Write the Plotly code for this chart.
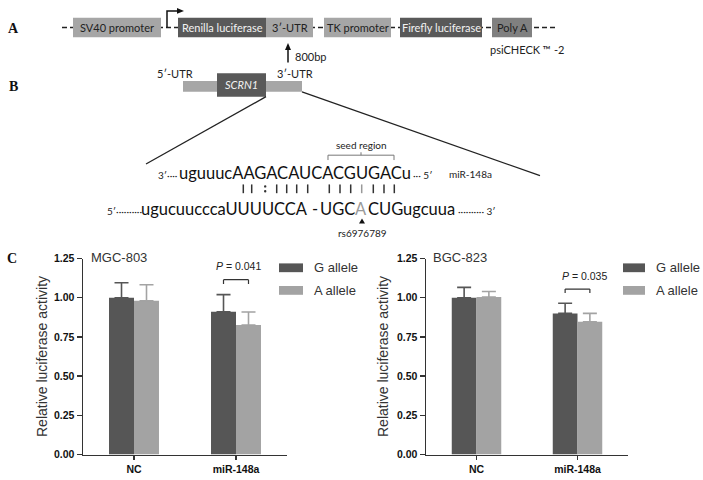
import plotly.graph_objects as go

W, H = 703, 480

# ---------------- data ----------------
categories = ["NC", "miR-148a"]
series_names = ["G allele", "A allele"]
mgc803_g = [1.00, 0.91]
mgc803_g_sd = [0.095, 0.11]
mgc803_a = [0.98, 0.826]
mgc803_a_sd = [0.103, 0.083]
bgc823_g = [1.00, 0.90]
bgc823_g_sd = [0.066, 0.065]
bgc823_a = [1.004, 0.847]
bgc823_a_sd = [0.036, 0.053]
panel_titles = ["MGC-803", "BGC-823"]
p_values = ["0.041", "0.035"]
y_tick_vals = [0, 0.25, 0.5, 0.75, 1.0, 1.25]
y_tick_text = ["0.00", "0.25", "0.50", "0.75", "1.00", "1.25"]

DARK = "#565656"
LIGHT = "#a3a3a3"
AXC = "#333333"
CHART_FONT = "'Liberation Sans', Arial, sans-serif"
DIAG_FONT = "Lato, 'Noto Sans', sans-serif"
SERIF = "'Liberation Serif', 'Times New Roman', serif"


def px(x):
    return x / W


def py(y):
    return 1 - y / H


def pt(x, y):
    return f"{px(x):.5f},{py(y):.5f}"


def txt(text, x, y, size, color="#222", family=DIAG_FONT, xanchor="left", **kw):
    d = dict(text=text, x=px(x), y=py(y), xref="paper", yref="paper", showarrow=False,
             font=dict(family=family, size=size, color=color), xanchor=xanchor, yanchor="middle",
             borderpad=0)
    d.update(kw)
    return d


fig = go.Figure()

datasets = [
    (mgc803_g, mgc803_g_sd, mgc803_a, mgc803_a_sd, "x", "y"),
    (bgc823_g, bgc823_g_sd, bgc823_a, bgc823_a_sd, "x2", "y2"),
]
for g, gsd, a, asd, xa, ya in datasets:
    for vals, sd, col, nm in ((g, gsd, DARK, series_names[0]), (a, asd, LIGHT, series_names[1])):
        fig.add_trace(go.Bar(
            x=categories, y=vals, name=nm, marker_color=col, marker_line_width=0,
            error_y=dict(type="data", symmetric=False, array=sd, arrayminus=[0] * len(sd),
                         color=col, thickness=1.6, width=7),
            xaxis=xa, yaxis=ya, showlegend=False, hoverinfo="skip",
        ))

xcommon = dict(type="category", range=[-0.5, 1.5], showline=True, linecolor=AXC, linewidth=1.5,
               ticks="outside", ticklen=4, tickwidth=1.5, tickcolor=AXC, showgrid=False,
               tickfont=dict(family=CHART_FONT, size=10.5, color="#111", weight="bold"))
ycommon = dict(range=[0, 1.25], tickvals=y_tick_vals, ticktext=y_tick_text, showline=True,
               linecolor=AXC, linewidth=1.5, ticks="outside", ticklen=5, tickwidth=1.5,
               tickcolor=AXC, showgrid=False, zeroline=False,
               tickfont=dict(family=CHART_FONT, size=10.5, color="#111", weight="bold"),
               domain=[1 - 460 / H, 1 - 259 / H])

shapes = []
ann = []

# ---------------- panel A: vector ----------------
shapes.append(dict(type="line", xref="paper", yref="paper", x0=px(62), x1=px(557), y0=py(22), y1=py(22),
                   line=dict(color="#222", width=1.5, dash="5px,3px")))
boxesA = [
    ("SV40 promoter", 73, 161, "#a6a6a6", "#222"),
    ("Renilla luciferase", 178, 266, "#595959", "#f2f2f2"),
    ("3′-UTR", 266, 313, "#a6a6a6", "#222"),
    ("TK promoter", 324, 391, "#a6a6a6", "#222"),
    ("Firefly luciferase", 400, 482, "#595959", "#f2f2f2"),
    ("Poly A", 492, 532, "#808080", "#222"),
]
for label, x0, x1, fc, tc in boxesA:
    shapes.append(dict(type="rect", xref="paper", yref="paper", x0=px(x0), x1=px(x1), y0=py(32), y1=py(12),
                       fillcolor=fc, line=dict(width=0)))
    ann.append(txt(label, (x0 + x1) / 2, 22, 11, tc, xanchor="center"))
# promoter arrow
shapes.append(dict(type="path", xref="paper", yref="paper",
                   path=f"M{pt(167, 22)} L{pt(167, 5)} L{pt(178, 5)}", line=dict(color="#111", width=1.5)))
shapes.append(dict(type="path", xref="paper", yref="paper",
                   path=f"M{pt(177, 2)} L{pt(184, 5)} L{pt(177, 8)} Z", fillcolor="#111", line=dict(width=0)))
ann.append(txt("psiCHECK ™ -2", 489, 45, 11))
# 800bp arrow
shapes.append(dict(type="line", xref="paper", yref="paper", x0=px(288), x1=px(288), y0=py(58), y1=py(44),
                   line=dict(color="#111", width=1.5)))
shapes.append(dict(type="path", xref="paper", yref="paper",
                   path=f"M{pt(285, 45)} L{pt(288, 38)} L{pt(291, 45)} Z", fillcolor="#111", line=dict(width=0)))
ann.append(txt("800bp", 294, 52, 11))

# ---------------- panel B: gene & sequence ----------------
shapes.append(dict(type="rect", xref="paper", yref="paper", x0=px(183), x1=px(302), y0=py(88), y1=py(77),
                   fillcolor="#a6a6a6", line=dict(width=0)))
shapes.append(dict(type="rect", xref="paper", yref="paper", x0=px(217), x1=px(266), y0=py(93), y1=py(69),
                   fillcolor="#595959", line=dict(width=0)))
ann.append(txt("<i>SCRN1</i>", 241, 81, 11, "#f2f2f2", xanchor="center"))
ann.append(txt("5′-UTR", 175, 69, 11, xanchor="center"))
ann.append(txt("3′-UTR", 295, 69, 11, xanchor="center"))
shapes.append(dict(type="line", xref="paper", yref="paper", x0=px(266), y0=py(93), x1=px(146), y1=py(162),
                   line=dict(color="#222", width=1.3)))
shapes.append(dict(type="line", xref="paper", yref="paper", x0=px(302), y0=py(88), x1=px(540), y1=py(174),
                   line=dict(color="#222", width=1.3)))

# seed region bracket
shapes.append(dict(type="path", xref="paper", yref="paper",
                   path=f"M{pt(328, 158)} L{pt(328, 153)} L{pt(394, 153)} L{pt(394, 158)}",
                   line=dict(color="#777", width=1)))
shapes.append(dict(type="line", xref="paper", yref="paper", x0=px(361), x1=px(361), y0=py(153), y1=py(150),
                   line=dict(color="#777", width=1)))
ann.append(txt("seed region", 361, 143, 10, xanchor="center"))

# miRNA line
ann.append(txt("3′····", 157, 173, 10))
ann.append(txt("uguuucAAGACAUCACGUGACu", 178, 171, 16.5, "#111"))
ann.append(txt("··· 5′", 412, 173, 10))
ann.append(txt("miR-148a", 448, 172, 10))

# pairing marks
pair_x = [243.3, 251.7, 276.7, 286.7, 296.7, 307.7, 329.3, 340, 350.7, 361.7, 373.3, 384, 394.3]
for xx in pair_x:
    col = "#999" if abs(xx - 361.7) < 0.5 else "#333"
    shapes.append(dict(type="line", xref="paper", yref="paper", x0=px(xx), x1=px(xx), y0=py(183), y1=py(192),
                       line=dict(color=col, width=1.5)))
for yy in (185, 190):
    shapes.append(dict(type="circle", xref="paper", yref="paper", x0=px(264), x1=px(266.4), y0=py(yy - 1.2),
                       y1=py(yy + 1.2), fillcolor="#333", line=dict(width=0)))

# target line (pieces anchored so that the SNP base sits under its mark)
ann.append(txt("5′··········", 106, 210, 10))
ann.append(txt("ugucuucccaUUUUCCA", 309, 208, 16.5, "#111", xanchor="right"))
ann.append(txt("-", 315, 208, 16.5, "#111", xanchor="center"))
ann.append(txt("UGC", 356, 208, 16.5, "#111", xanchor="right"))
ann.append(txt("A", 361.5, 208, 16.5, "#9a9a9a", xanchor="center"))
ann.append(txt("CUGugcuua", 367, 208, 16.5, "#111"))
ann.append(txt("·········· 3′", 457, 210, 10))
shapes.append(dict(type="path", xref="paper", yref="paper",
                   path=f"M{pt(359, 223)} L{pt(362, 218)} L{pt(365, 223)} Z", fillcolor="#111", line=dict(width=0)))
ann.append(txt("rs6976789", 362, 233, 10, xanchor="center"))

# panel letters
for letter, lx, ly in (("A", 13, 23), ("B", 13, 83), ("C", 12, 259)):
    ann.append(txt(f"<b>{letter}</b>", lx, ly, 14, "#111", family=SERIF, xanchor="center"))

# ---------------- panel C: chart decorations ----------------
chart_cfg = [
    dict(xa="x", ya="y", title_x=90, ylab_x=42, lx0=279, lx1=303, ltx=313, p_x=238, p_y=267, bt=1.115, bl=1.088),
    dict(xa="x2", ya="y2", title_x=432, ylab_x=383, lx0=623, lx1=645, ltx=655, p_x=584, p_y=277, bt=1.055, bl=1.030),
]
for i, c in enumerate(chart_cfg):
    ann.append(txt(panel_titles[i], c["title_x"], 258, 13, "#333", family=CHART_FONT))
    ann.append(txt("Relative luciferase activity", c["ylab_x"], 360, 14, "#333", family=CHART_FONT,
                   xanchor="center", textangle=-90))
    for nm, col, yy in ((series_names[0], DARK, 268.5), (series_names[1], LIGHT, 291.7)):
        shapes.append(dict(type="rect", xref="paper", yref="paper", x0=px(c["lx0"]), x1=px(c["lx1"]),
                           y0=py(yy - 4.5), y1=py(yy + 4.5), fillcolor=col, line=dict(width=0)))
        ann.append(txt(nm, c["ltx"], yy, 13, "#333", family=CHART_FONT))
    ann.append(txt(f"<i>P</i> = {p_values[i]}", c["p_x"], c["p_y"], 10.5, "#222", family=CHART_FONT,
                   xanchor="center"))
    bx0, bx1 = 1 - 0.1225, 1 + 0.1225
    for seg in ((bx0, c["bl"], bx0, c["bt"]), (bx0, c["bt"], bx1, c["bt"]), (bx1, c["bt"], bx1, c["bl"])):
        shapes.append(dict(type="line", xref=c["xa"], yref=c["ya"], x0=seg[0], y0=seg[1], x1=seg[2], y1=seg[3],
                           line=dict(color="#333", width=1.2)))

fig.update_layout(
    width=W, height=H, margin=dict(l=0, r=0, t=0, b=0),
    paper_bgcolor="white", plot_bgcolor="white",
    barmode="group", bargap=0.51, bargroupgap=0,
    xaxis=dict(domain=[83 / W, 287 / W], anchor="y", **xcommon),
    yaxis=dict(anchor="x", **ycommon),
    xaxis2=dict(domain=[426 / W, 628 / W], anchor="y2", **xcommon),
    yaxis2=dict(anchor="x2", **ycommon),
    shapes=shapes, annotations=ann, showlegend=False,
)

fig.write_html("out.html", config={"displayModeBar": False, "staticPlot": True},
               post_script="document.body.style.margin='0';document.body.style.overflow='hidden';")
